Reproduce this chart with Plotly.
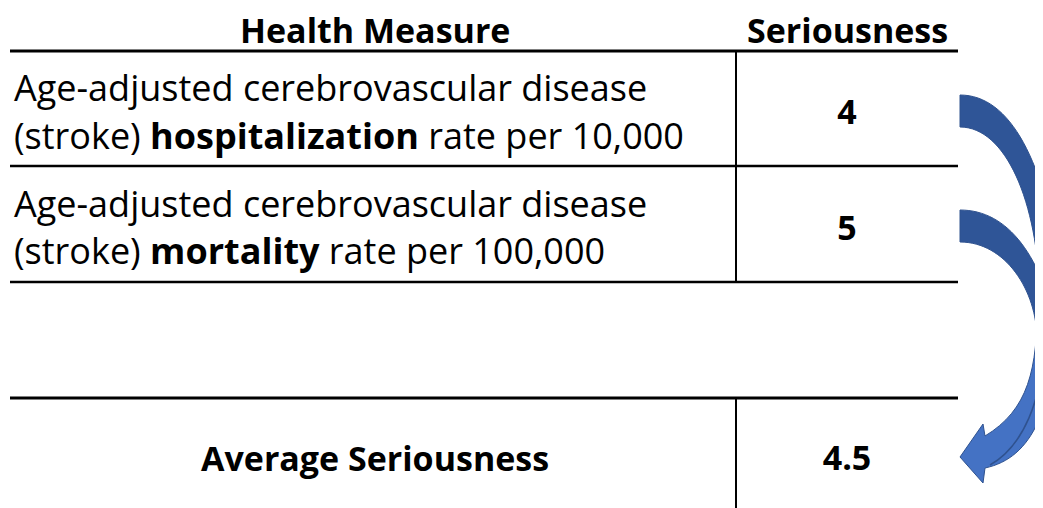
import plotly.graph_objects as go

# ---- data ----
header_labels = ["Health Measure", "Seriousness"]
measure_line1 = ["Age-adjusted cerebrovascular disease",
                 "Age-adjusted cerebrovascular disease"]
measure_line2 = ["(stroke) <b>hospitalization</b> rate per 10,000",
                 "(stroke) <b>mortality</b> rate per 100,000"]
seriousness = [4, 5]
average_label = "Average Seriousness"
average_seriousness = 4.5

# ---- layout constants (page pixel space; page body has an 8px margin) ----
PAGE_W, PAGE_H = 1043, 508
OFF = 8
FONT = "'Open Sans', Lato, sans-serif"
FS = 36
FS_HEAD = 34
BLACK = "#000000"
DARK = "#2F5597"
LIGHT = "#4472C4"
EDGE = "#2F528F"

col1_center = 375
col2_center = 847
text_left = 12
header_y = 30
row_line1_y = [87, 203]
row_line2_y = [135, 250]
row_center_y = [115, 231]
avg_y = 458
avg_val_y = 461

fig = go.Figure()

# values drawn as a text trace
fig.add_trace(go.Scatter(
    x=[col2_center] * len(seriousness) + [col2_center],
    y=row_center_y + [avg_val_y],
    mode="text",
    text=[f"<b>{v}</b>" for v in seriousness] + [f"<b>{average_seriousness}</b>"],
    textfont=dict(family=FONT, size=FS_HEAD, color=BLACK),
    hoverinfo="skip",
    showlegend=False,
))

ann = []
ann.append(dict(x=col1_center, y=header_y, text=f"<b>{header_labels[0]}</b>",
                font=dict(family=FONT, size=FS_HEAD, color=BLACK)))
ann.append(dict(x=col2_center, y=header_y, text=f"<b>{header_labels[1]}</b>",
                font=dict(family=FONT, size=FS_HEAD, color=BLACK)))
for l1, l2, y1, y2 in zip(measure_line1, measure_line2, row_line1_y, row_line2_y):
    ann.append(dict(x=text_left, y=y1, text=l1, xanchor="left"))
    ann.append(dict(x=text_left, y=y2, text=l2, xanchor="left"))
ann.append(dict(x=col1_center, y=avg_y, text=f"<b>{average_label}</b>",
                font=dict(family=FONT, size=FS_HEAD, color=BLACK)))

annotations = []
for a in ann:
    d = dict(xref="x", yref="y", showarrow=False, yanchor="middle",
             xanchor="center", font=dict(family=FONT, size=FS, color=BLACK))
    d.update(a)
    annotations.append(d)

shapes = []
# horizontal rules
for y, w in [(51, 3), (166, 2.5), (282, 2.5), (398, 3)]:
    shapes.append(dict(type="line", xref="x", yref="y", x0=10, x1=958, y0=y, y1=y,
                       line=dict(color=BLACK, width=w)))
# vertical rules
for y0, y1 in [(51, 282), (398, 508)]:
    shapes.append(dict(type="line", xref="x", yref="y", x0=736, x1=736, y0=y0, y1=y1,
                       line=dict(color=BLACK, width=2)))

# curved arrows
band1 = "M 960,95 C 1010,95 1045,160 1062,280 L 1040,300 C 1038,200 1005,127 960,127 Z"
band2 = "M 960,210 C 1008,210 1042,255 1060,340 L 1037,340 C 1037,290 1005,242 960,242 Z"
front = ("M 1037,300 C 1038,370 1028,410 985,436 L 983,424 L 960,457 L 983,483 "
         "L 985,468 C 1032,458 1055,410 1060,300 Z")
stripe = "M 1046,345 C 1040,400 1025,445 990,465"
for p, c in [(band1, DARK), (band2, DARK), (front, LIGHT)]:
    shapes.append(dict(type="path", xref="x", yref="y", path=p, fillcolor=c,
                       line=dict(color=EDGE, width=1)))
shapes.append(dict(type="path", xref="x", yref="y", path=stripe,
                   line=dict(color=EDGE, width=1.5)))

fig.update_layout(
    width=PAGE_W - OFF, height=PAGE_H - OFF,
    margin=dict(l=0, r=0, t=0, b=0),
    paper_bgcolor="white", plot_bgcolor="white",
    xaxis=dict(range=[OFF, PAGE_W], visible=False, fixedrange=True),
    yaxis=dict(range=[PAGE_H, OFF], visible=False, fixedrange=True),
    annotations=annotations,
    shapes=shapes,
    showlegend=False,
)

fig.write_html("out.html")
